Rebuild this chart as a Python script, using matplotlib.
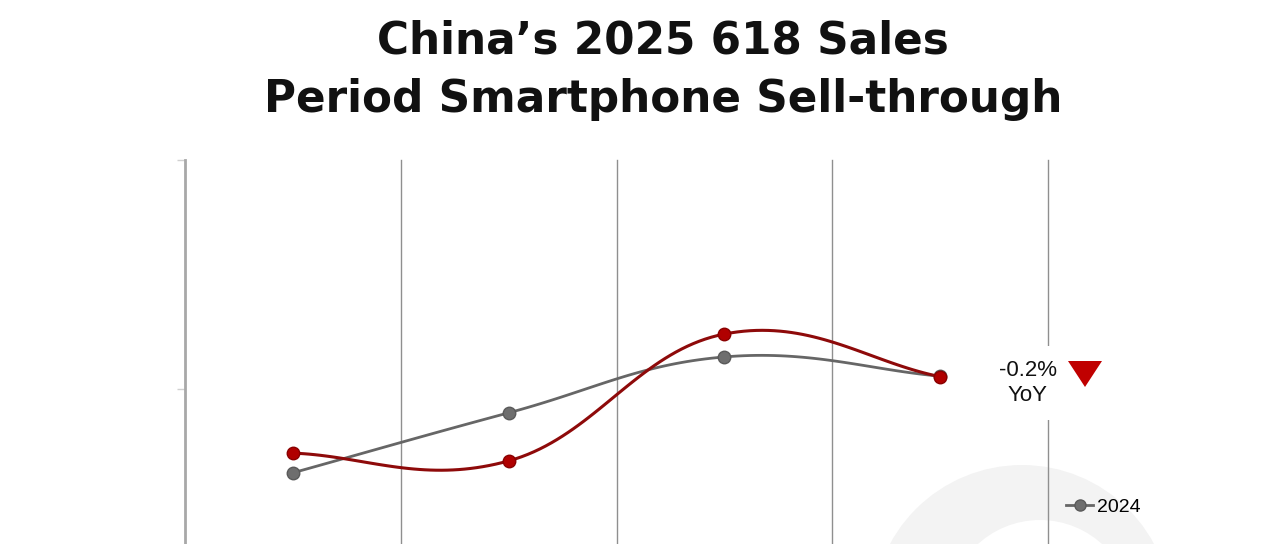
import numpy as np
import matplotlib
matplotlib.use("Agg")
import matplotlib.pyplot as plt
from matplotlib.patches import Circle, Polygon
from matplotlib.lines import Line2D

# data (arbitrary units, axis 0..10)
categories = ["Week 1", "Week 2", "Week 3", "Week 4"]
sales_2024 = [3.17, 4.48, 5.70, 5.28]
sales_2025 = [3.60, 3.43, 6.20, 5.27]
legend_name = "2024"
yoy_label = "-0.2%\nYoY"

W, H, DPI = 1280, 544, 100
fig = plt.figure(figsize=(W / DPI, H / DPI), dpi=DPI)


def px(x, y):
    # pixel (from top-left) -> inches for dpi_scale_trans
    return x / DPI, (H - y) / DPI


def smooth(xs, ys, s=0.2, n=40):
    # Bezier smoothing like a spreadsheet "smoothed line"
    pts = np.column_stack([xs, ys]).astype(float)
    out = []
    for i in range(len(pts) - 1):
        p0, p3 = pts[i], pts[i + 1]
        if i == 0:
            c1 = p0 + (p3 - p0) / 3
        else:
            c1 = p0 + s * (p3 - pts[i - 1])
        if i + 1 == len(pts) - 1:
            c2 = p3 - (p3 - p0) / 3
        else:
            c2 = p3 - s * (pts[i + 2] - p0)
        t = np.linspace(0, 1, n)[:, None]
        seg = ((1 - t) ** 3) * p0 + 3 * ((1 - t) ** 2) * t * c1 + 3 * (1 - t) * t ** 2 * c2 + t ** 3 * p3
        out.append(seg if i == 0 else seg[1:])
    out = np.vstack(out)
    return out[:, 0], out[:, 1]


# faint watermark ring behind the plot
fig.add_artist(Circle(px(1022, 615), 150 / DPI, transform=fig.dpi_scale_trans,
                      facecolor="#f3f3f3", edgecolor="none", zorder=0))
fig.add_artist(Circle(px(1040, 612), 92 / DPI, transform=fig.dpi_scale_trans,
                      facecolor="white", edgecolor="none", zorder=0))

# axes: top at y=160, bottom (value 0) below the visible area
ax = fig.add_axes([185 / W, (H - 618) / H, (1048 - 185) / W, (618 - 160) / H])
ax.patch.set_alpha(0)
ax.set_xlim(0, 4)
ax.set_ylim(0, 10)
ax.set_yticks([0, 5, 10])
ax.set_yticklabels([])
ax.tick_params(axis="y", length=6, width=1, color="#d0d0d0")
ax.set_xticks([1, 2, 3, 4])
ax.set_xticklabels([])
ax.tick_params(axis="x", length=0)
ax.grid(axis="x", color="#8f8f8f", lw=1.0)
for gl in ax.get_xgridlines():
    gl.set_clip_on(False)
for sp in ["top", "right", "bottom"]:
    ax.spines[sp].set_visible(False)
ax.spines["left"].set_color("#a8a8a8")
ax.spines["left"].set_linewidth(2)

xpos = np.arange(len(categories)) + 0.5

gx, gy = smooth(xpos, sales_2024)
ax.plot(gx, gy, color="#666666", lw=2.0, zorder=3, solid_capstyle="round")
ax.plot(xpos, sales_2024, "o", ms=9, color="#6e6e6e", mec="#5a5a5a", mew=1, zorder=4)

rx, ry = smooth(xpos, sales_2025)
ax.plot(rx, ry, color="#8e0a0a", lw=2.2, zorder=5, solid_capstyle="round")
ax.plot(xpos, sales_2025, "o", ms=9, color="#b00000", mec="#8a0000", mew=1, zorder=6)

# YoY annotation with white box over the gridline
fig.text(1028 / W, (H - 383) / H, yoy_label, ha="center", va="center",
         fontsize=16, family="Liberation Sans", color="#111111", linespacing=1.25,
         bbox=dict(facecolor="white", edgecolor="none", pad=10), zorder=7)
tri = [px(1068, 361), px(1102, 361), px(1085, 387)]
fig.add_artist(Polygon(tri, closed=True, transform=fig.dpi_scale_trans,
                       facecolor="#c00000", edgecolor="none", zorder=8))

# legend (only the 2024 entry is inside the visible area)
handle = Line2D([], [], color="#666666", lw=2, marker="o", ms=8, mfc="#6e6e6e", mec="#5a5a5a")
fig.legend([handle], [legend_name], loc="upper left", bbox_to_anchor=(1066 / W, (H - 498) / H),
           frameon=False, prop={"family": "Liberation Sans", "size": 14},
           handlelength=1.4, handletextpad=0.2, borderpad=0, borderaxespad=0)

# title
title_font = dict(fontsize=31.5, fontweight="bold", family="DejaVu Sans", color="#111111")
fig.text(663 / W, (H - 53) / H, "China\u2019s 2025 618 Sales", ha="center", va="baseline", **title_font)
fig.text(663 / W, (H - 112) / H, "Period Smartphone Sell-through", ha="center", va="baseline", **title_font)

fig.savefig("out.png", dpi=DPI)
